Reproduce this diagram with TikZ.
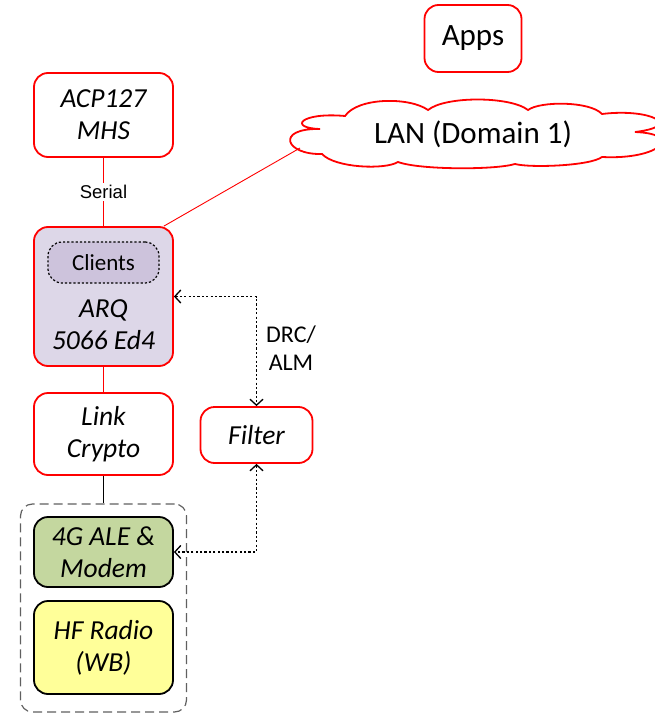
\documentclass[tikz,border=0pt]{standalone}
\usepackage{fontspec}
\setmainfont{Carlito}
\newfontfamily\arialfont{Liberation Sans}
\usetikzlibrary{arrows.meta}

\definecolor{boxred}{HTML}{FF0000}
\definecolor{arqfill}{HTML}{DDD7E8}
\definecolor{clientfill}{HTML}{CDC3DC}
\definecolor{modemfill}{HTML}{C4D79F}
\definecolor{radiofill}{HTML}{FFFF99}
\definecolor{groupgray}{HTML}{606060}

\tikzset{
  box/.style={draw=boxred, line width=1.8pt, rounded corners=14pt, fill=white,
    align=center, inner sep=0pt,
    font=\fontsize{27.5}{32}\selectfont\itshape},
  blackbox/.style={box, draw=black},
  plainbox/.style={box, font=\fontsize{31}{36}\selectfont},
  redlink/.style={draw=boxred, line width=0.9pt},
  ctrl/.style={draw=black, line width=1.4pt, dash pattern=on 2.2pt off 2.2pt,
    {Straight Barb[length=6pt,width=13pt,line width=1.3pt]}-{Straight Barb[length=6pt,width=13pt,line width=1.3pt]}},
}

\begin{document}
\begin{tikzpicture}[x=1pt,y=-1pt]
\useasboundingbox (0,0) rectangle (654,714);

% network side
\node[plainbox, minimum width=97pt, minimum height=67pt] (apps) at (473,38.5) {Apps};

% LAN cloud outline, puff by puff
\draw[draw=boxred, line width=1.8pt, fill=white]
  (345,116) .. controls (358,97) and (410,97) .. (428,110)
            .. controls (445,96) and (510,96) .. (528,110)
            .. controls (540,101) and (590,101) .. (602,114)
            .. controls (650,108) and (685,126) .. (635,132)
            .. controls (685,134) and (660,160) .. (602,157)
            .. controls (590,166) and (530,168) .. (515,164)
            .. controls (495,170) and (420,170) .. (398,162)
            .. controls (385,170) and (335,168) .. (322,154)
            .. controls (285,155) and (275,128) .. (320,129)
            .. controls (288,128) and (300,112) .. (345,116) -- cycle;
\node[inner sep=0pt, font=\fontsize{31}{36}\selectfont] (lan) at (473,134) {LAN (Domain 1)};

% message handling stack
\node[box, minimum width=139pt, minimum height=84pt] (acp) at (103.5,115) {ACP127\\MHS};
\node[box, fill=arqfill, minimum width=139pt, minimum height=139pt] (arq) at (103.5,296.5) {};
\node[draw=black, line width=1.2pt, dash pattern=on 2.2pt off 2pt, rounded corners=14pt,
  fill=clientfill, minimum width=111pt, minimum height=41pt, inner sep=0pt,
  font=\fontsize{23}{28}\selectfont] (clients) at (103.5,262.5) {Clients};
\node[align=center, inner sep=0pt, font=\fontsize{27.5}{32}\selectfont\itshape] (arqtext) at (103.5,325) {ARQ\\5066 Ed4};
\node[box, minimum width=139pt, minimum height=82pt] (link) at (103.5,434) {Link\\Crypto};
\node[box, minimum width=112pt, minimum height=56pt] (filter) at (256.5,435) {Filter};

% radio group
\node[draw=groupgray, line width=1.2pt, dash pattern=on 9pt off 5pt, rounded corners=12pt,
  minimum width=166pt, minimum height=208pt, inner sep=0pt] (grp) at (103.5,608) {};
\node[blackbox, fill=modemfill, minimum width=139pt, minimum height=70pt] (modem) at (103.5,552) {4G ALE \&\\Modem};
\node[blackbox, fill=radiofill, minimum width=139pt, minimum height=93pt] (radio) at (103.5,647.5) {HF Radio\\(WB)};

% connectors
\draw[redlink] (acp) -- node[fill=white, inner sep=2pt, font=\arialfont\fontsize{18.5}{20}\selectfont] (serial) {Serial} (arq);
\coordinate (lanfoot) at (300,148);
\draw[redlink] ([xshift=-10pt]arq.north east) -- (lanfoot);
\draw[redlink] (arq) -- (link);
\draw[line width=0.9pt] (link) -- (grp);
\draw[ctrl] (arq.east) -| (filter.north);
\draw[ctrl] (filter.south) |- (modem.east);
\node[align=center, inner sep=0pt, font=\fontsize{24}{28}\selectfont] (drc) at (291,348) {DRC/\\ALM};
\end{tikzpicture}
\end{document}
